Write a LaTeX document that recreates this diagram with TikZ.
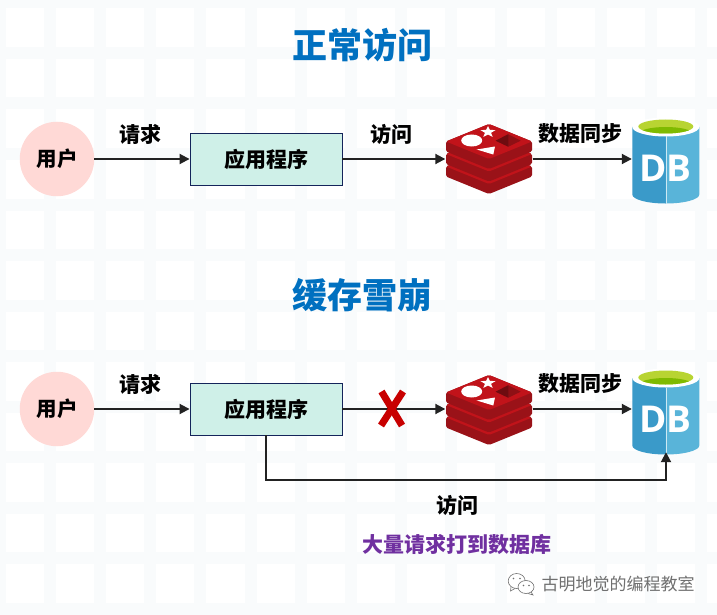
\documentclass[tikz,border=0pt]{standalone}
\usepackage{fontspec}
\setmainfont{Noto Sans CJK SC}
\newfontfamily\dbfont{Open Sans}
\usetikzlibrary{arrows.meta}
\definecolor{band}{HTML}{F9FBFC}
\definecolor{ink}{HTML}{222222}
\definecolor{titleblue}{HTML}{0070C0}
\definecolor{userpink}{HTML}{FFD9D6}
\definecolor{boxfill}{HTML}{CFF0E8}
\definecolor{boxline}{HTML}{14245A}
\definecolor{xred}{HTML}{C80000}
\definecolor{purpletext}{HTML}{7030A0}
\definecolor{redtop}{HTML}{C1131A}
\definecolor{redside}{HTML}{9A1218}
\definecolor{reddark}{HTML}{6E0C10}
\definecolor{redmid}{HTML}{8E1015}
\definecolor{dbleft}{HTML}{3A9AC9}
\definecolor{dbright}{HTML}{59B4D9}
\definecolor{dbgreen}{HTML}{B8D432}
\definecolor{dbgreen2}{HTML}{7FBA00}
\definecolor{wmgray}{HTML}{707070}
\tikzset{
  conn/.style={draw=ink,line width=1.9pt,-{Triangle[length=10pt,width=10pt]}},
  label/.style={font=\bfseries\fontsize{21}{21}\selectfont,text=black,inner sep=0pt},
  titletext/.style={font=\bfseries\fontsize{35}{35}\selectfont,text=titleblue,inner sep=0pt},
  usernode/.style={circle,fill=userpink,minimum size=74.5pt,inner sep=0pt,font=\bfseries\fontsize{20.5}{21}\selectfont},
  appbox/.style={rectangle,draw=boxline,line width=0.9pt,fill=boxfill,minimum width=152pt,minimum height=52pt,inner sep=0pt,font=\bfseries\fontsize{21}{21}\selectfont},
  iconbox/.style={rectangle,inner sep=0pt,minimum width=#1},
  redisbox/.style={iconbox=87pt,minimum height=71pt},
  dbbox/.style={iconbox=68pt,minimum height=86pt},
}
\newcommand{\redislayer}[1]{%
  \begin{scope}[shift={(0,#1)}]
    \fill[redside,rounded corners=1.5pt] (446,141.5) -- (446,151.5) -- (489,169) -- (532,151.5) -- (532,141.5) -- (489,124) -- cycle;
    \fill[redtop,rounded corners=1.5pt] (446,141.5) -- (489,124) -- (532,141.5) -- (489,159) -- cycle;
  \end{scope}}
\newcommand{\redisicon}[1]{%
  \begin{scope}[shift={(0,#1)}]
    \redislayer{25}
    \redislayer{12.5}
    \redislayer{0}
    \fill[white] (488,126) -- (489.9,129.9) -- (495.6,130.1) -- (491,132.8) -- (492.7,136.9) -- (488,134.6) -- (483.3,136.9) -- (485,132.8) -- (480.4,130.1) -- (486.1,129.9) -- cycle;
    \fill[white] (471.7,140.5) ellipse [x radius=10.5,y radius=6];
    \fill[white] (476.7,149.5) -- (495,146.5) -- (493.3,154.5) -- cycle;
    \fill[redmid] (495.7,140.7) -- (508.3,134.3) -- (520.7,140.7) -- (508.3,146.7) -- cycle;
    \fill[reddark] (495.7,140.7) -- (508.3,134.3) -- (508.3,146.7) -- cycle;
  \end{scope}}
\newcommand{\dbicon}[2]{%
  \begin{scope}[shift={(0,#1)}]
    \fill[dbleft] (632.3,127) -- (632.3,194.5) .. controls (632.3,199.5) and (647,203.5) .. (665.8,203.5) -- (665.8,127) -- cycle;
    \fill[dbright] (665.8,203.5) .. controls (684.5,203.5) and (699.3,199.5) .. (699.3,194.5) -- (699.3,127) -- (665.8,127) -- cycle;
    \fill[white] (665.8,127) ellipse [x radius=33.5,y radius=9.5];
    \begin{scope}
      \clip (665.8,126.5) ellipse [x radius=27.5,y radius=7];
      \fill[dbgreen] (630,115) rectangle (702,140);
      \fill[dbgreen2] (665.8,134) ellipse [x radius=27.5,y radius=7];
    \end{scope}
    \draw[white!70!dbright,line width=0.5pt] (665.8,136.5) -- (665.8,203.5);
    \node[name=#2,inner sep=0pt,text=white,font=\dbfont\bfseries\fontsize{37}{37}\selectfont] at (665.5,168) {DB};
  \end{scope}}
\begin{document}
\begin{tikzpicture}[x=1pt,y=-1pt]
  \useasboundingbox (0,0) rectangle (717,615);
  \fill[white] (0,0) rectangle (717,615);
  \foreach \k in {0,...,14} {
    \fill[band] ({50.1*\k-6},0) rectangle ({50.1*\k+6},615);
  }
  \foreach \k in {0,...,12} {
    \fill[band] (0,{50.5*\k+2.5-6}) rectangle (717,{50.5*\k+2.5+6});
  }

  \node[titletext] (title1) at (362,45) {正常访问};
  \node[titletext] (title2) at (362,295) {缓存雪崩};

  % Row 1
  \node[usernode] (user1) at (57,159) {用户};
  \node[appbox] (app1) at (266,159) {应用程序};
  \node[redisbox] (redis1) at (489,159) {};
  \node[dbbox] (db1) at (666,159) {};
  \redisicon{0}
  \dbicon{0}{dbtext1}
  \draw[conn] (user1) -- (app1);
  \draw[conn] (app1) -- (redis1);
  \draw[conn] (redis1) -- (db1);
  \node[label] (l1) at (140,134) {请求};
  \node[label] (l2) at (391,134) {访问};
  \node[label] (l3) at (580,134) {数据同步};

  % Row 2
  \node[usernode] (user2) at (57,409) {用户};
  \node[appbox] (app2) at (266,409) {应用程序};
  \node[redisbox] (redis2) at (489,409) {};
  \node[dbbox] (db2) at (666,409) {};
  \redisicon{251}
  \dbicon{251}{dbtext2}
  \coordinate (bend) at (266,480);
  \draw[conn] (user2) -- (app2);
  \draw[conn] (app2) -- (redis2);
  \draw[conn] (redis2) -- (db2);
  \draw[conn] (app2.south) -- (bend) -| (db2.south);
  \draw[xred,line width=7pt] (381.5,391.5) -- (402,425.5);
  \draw[xred,line width=7pt] (403,391.5) -- (381,425.5);
  \node[label] (l4) at (140,384) {请求};
  \node[label] (l5) at (580,384) {数据同步};
  \node[label] (l6) at (457,505) {访问};
  \node[label,text=purpletext] (l7) at (457,545) {大量请求打到数据库};

  % Watermark
  \draw[wmgray,line width=0.6pt,fill=white] (516.7,581) ellipse [x radius=8.5,y radius=7.5];
  \draw[wmgray,line width=0.6pt] (511,587) -- (510.5,591) -- (515,588.5);
  \draw[wmgray,line width=0.6pt,fill=white] (526,587) ellipse [x radius=8,y radius=6.5];
  \draw[wmgray,line width=0.6pt] (531,592) -- (533,595) -- (528,593.5);
  \fill[wmgray] (513.5,578.5) circle (0.9) (520,578.5) circle (0.9) (523.5,585.5) circle (0.8) (529,585.5) circle (0.8);
  \node[inner sep=0pt,text=wmgray,font=\fontsize{17}{17}\selectfont] (wm) at (618,584) {古明地觉的编程教室};
\end{tikzpicture}
\end{document}
